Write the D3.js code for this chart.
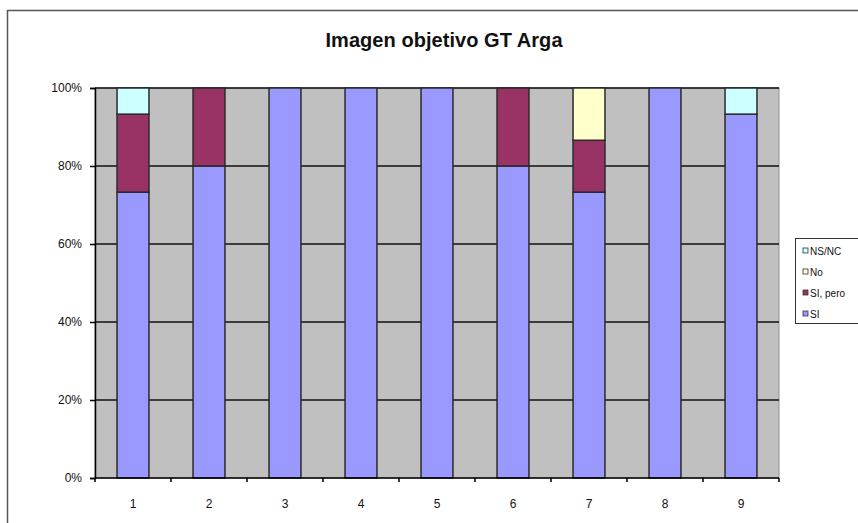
<!DOCTYPE html>
<html>
<head>
<meta charset="utf-8">
<script src="https://cdn.jsdelivr.net/npm/d3@7"></script>
<style>
  body { margin: 0; background: #fff; }
  text { font-family: "Liberation Sans", Arial, sans-serif; fill: #111; }
</style>
</head>
<body>
<script>
// data (shares of 15 answers)
var categories = ["1", "2", "3", "4", "5", "6", "7", "8", "9"];
var seriesNames = ["SI", "SI, pero", "No", "NS/NC"];
var siValues = [0.733, 0.8, 1, 1, 1, 0.8, 0.733, 1, 0.933];
var siPeroValues = [0.2, 0.2, 0, 0, 0, 0.2, 0.133, 0, 0];
var noValues = [0, 0, 0, 0, 0, 0, 0.134, 0, 0];
var nsncValues = [0.067, 0, 0, 0, 0, 0, 0, 0, 0.067];
var yTicks = [0, 0.2, 0.4, 0.6, 0.8, 1];

var colors = {"SI": "#9999ff", "SI, pero": "#993366", "No": "#ffffcc", "NS/NC": "#ccffff"};

var svgWidth = 858;
var svgHeight = 523;
var margin = {top: 88, left: 95};
var width = 684;
var height = 390;

var svg = d3.select("body").append("svg")
  .attr("width", svgWidth)
  .attr("height", svgHeight);

// outer chart frame
svg.append("rect")
  .attr("x", 7.5).attr("y", 10.5)
  .attr("width", 900).attr("height", 600)
  .attr("fill", "#fff")
  .attr("stroke", "#555")
  .attr("stroke-width", 1.5);

svg.append("text")
  .attr("x", 444).attr("y", 47)
  .attr("text-anchor", "middle")
  .style("font-size", "20px")
  .style("font-weight", "bold")
  .attr("textLength", 237)
  .text("Imagen objetivo GT Arga");

var chartGroup = svg.append("g")
  .attr("transform", `translate(${margin.left}, ${margin.top})`);

var table = categories.map(function(c, i) {
  return {cat: c, "SI": siValues[i], "SI, pero": siPeroValues[i], "No": noValues[i], "NS/NC": nsncValues[i]};
});

var xScale = d3.scaleBand()
  .domain(categories)
  .range([0, width])
  .paddingInner(0.58)
  .paddingOuter(0.29);

var yScale = d3.scaleLinear()
  .domain([0, 1])
  .range([height, 0]);

// plot area
chartGroup.append("rect")
  .attr("width", width).attr("height", height)
  .attr("fill", "#c0c0c0")
  .attr("stroke", "#909090");

// gridlines
chartGroup.selectAll(".grid")
  .data(yTicks.slice(1))
  .enter()
  .append("line")
  .attr("x1", 0).attr("x2", width)
  .attr("y1", d => Math.round(yScale(d)))
  .attr("y2", d => Math.round(yScale(d)))
  .attr("stroke", "#111")
  .attr("stroke-width", 1.5);

var stack = d3.stack().keys(seriesNames)(table);

chartGroup.selectAll(".series")
  .data(stack)
  .enter()
  .append("g")
  .attr("fill", d => colors[d.key])
  .selectAll("rect")
  .data(d => d.filter(p => p[1] - p[0] > 0))
  .enter()
  .append("rect")
  .attr("x", d => xScale(d.data.cat))
  .attr("width", xScale.bandwidth())
  .attr("y", d => yScale(d[1]))
  .attr("height", d => yScale(d[0]) - yScale(d[1]))
  .attr("stroke", "#2a2a2a")
  .attr("stroke-width", 1.5);

// y axis
var leftAxis = d3.axisLeft(yScale)
  .tickValues(yTicks)
  .tickFormat(d3.format(".0%"))
  .tickSize(5)
  .tickPadding(8);

chartGroup.append("g")
  .call(leftAxis)
  .call(g => g.selectAll("text").style("font-size", "12px").attr("fill", "#111"))
  .call(g => g.selectAll("line, .domain").attr("stroke", "#000").attr("stroke-width", 1.5));

// x axis: ticks on category boundaries
var xAxisGroup = chartGroup.append("g")
  .attr("transform", `translate(0, ${height})`);

xAxisGroup.append("line")
  .attr("x1", 0).attr("x2", width)
  .attr("stroke", "#000")
  .attr("stroke-width", 1.5);

xAxisGroup.selectAll(".tick")
  .data(d3.range(categories.length + 1))
  .enter()
  .append("line")
  .attr("x1", i => i * width / categories.length)
  .attr("x2", i => i * width / categories.length)
  .attr("y1", 0).attr("y2", 4)
  .attr("stroke", "#000")
  .attr("stroke-width", 1.5);

xAxisGroup.selectAll(".label")
  .data(categories)
  .enter()
  .append("text")
  .attr("x", d => xScale(d) + xScale.bandwidth() / 2)
  .attr("y", 30)
  .attr("text-anchor", "middle")
  .style("font-size", "12px")
  .text(d => d);

// legend
var legend = svg.append("g")
  .attr("transform", "translate(795, 238)");

legend.append("rect")
  .attr("x", 0.5).attr("y", 0.5)
  .attr("width", 70).attr("height", 85)
  .attr("fill", "#fff")
  .attr("stroke", "#333");

var legendItems = seriesNames.slice().reverse();
legendItems.forEach(function(name, i) {
  var y = 13 + i * 21;
  legend.append("rect")
    .attr("x", 8).attr("y", y - 3)
    .attr("width", 5).attr("height", 5)
    .attr("fill", colors[name])
    .attr("stroke", "#333")
    .attr("stroke-width", 0.8);
  legend.append("text")
    .attr("x", 15).attr("y", y + 3.5)
    .style("font-size", "10px")
    .text(name);
});
</script>
</body>
</html>
